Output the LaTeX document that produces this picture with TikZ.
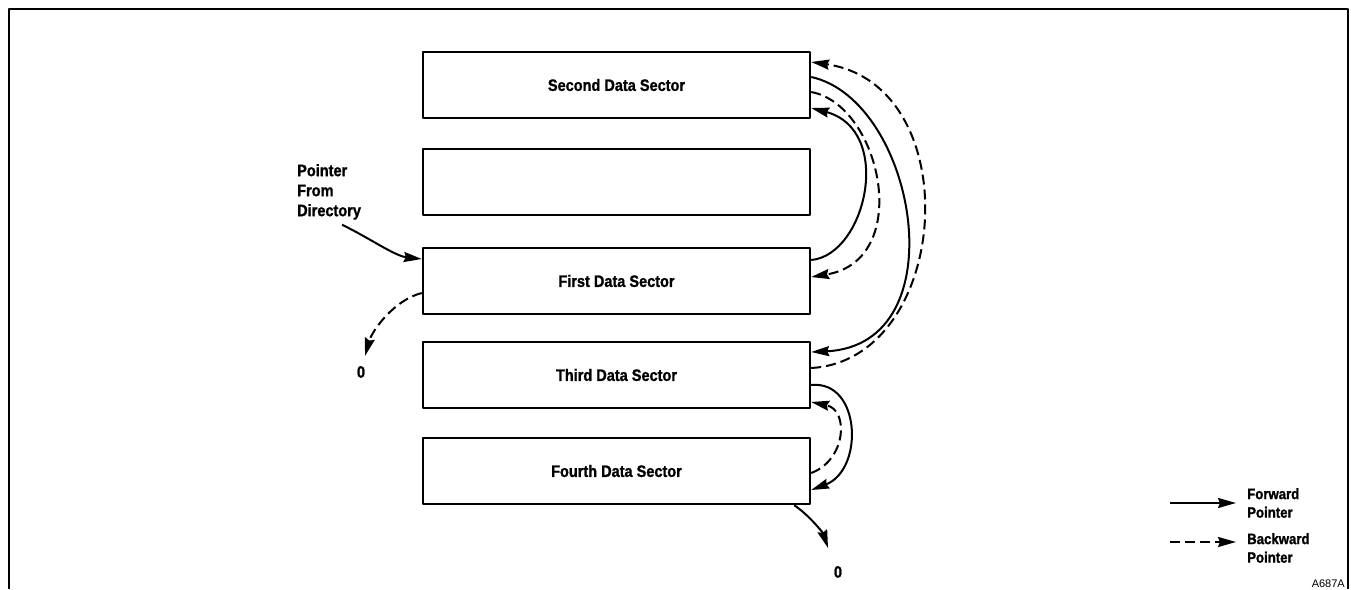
\documentclass[tikz,border=0pt]{standalone}
\usepackage{fontspec}
\setmainfont{Liberation Sans}
\newfontfamily\narrowsf{Liberation Sans}[FakeStretch=0.88, BoldFeatures={FakeBold=1.2}]
\usetikzlibrary{arrows.meta}

\begin{document}
\begin{tikzpicture}[x=1pt, y=-1pt, line join=round, >={Stealth[length=18pt,width=10pt,inset=2pt]},
	sector/.style={draw, line width=2.4pt, minimum width=387pt, minimum height=66pt, inner sep=0pt, font={\narrowsf\bfseries\fontsize{16.5}{20}\selectfont}},
	lbl/.style={inner sep=0pt, align=left, font={\narrowsf\bfseries\fontsize{16.5}{20}\selectfont}},
	key/.style={inner sep=0pt, align=left, font={\narrowsf\bfseries\fontsize{15}{18.5}\selectfont}},
	fwd/.style={->, line width=2pt},
	bwd/.style={->, line width=2pt, dash pattern=on 10pt off 5pt}]
					\useasboundingbox (0,0) rectangle (1351,589);
					\draw[line width=2.4pt] (9,589) -- (9,9) -- (1348,9) -- (1348,589);
					\foreach \n/\y/\t in {second/85/Second Data Sector, spare/182/, first/281/First Data Sector, third/375/Third Data Sector, fourth/471/Fourth Data Sector}
					\node[sector] (\n) at (616.5,\y) {\t};
					\node[lbl, anchor=north west] (ptr) at (297,164) {Pointer\\From\\Directory};
					\node[lbl] (zeroA) at (361,372) {0};
					\node[lbl] (zeroB) at (838,572) {0};
					\draw[fwd] ([shift={(13,5)}]ptr.south) .. controls +(27,13) and +(-27,-3) .. ([shift={(0,-22)}]first.west);
					\draw[bwd] ([shift={(0,12)}]first.west) .. controls +(-28,7) and +(7,-25) .. ([shift={(4,-10)}]zeroA.north);
					\draw[fwd] ([shift={(0,-21)}]first.east) .. controls +(55,-5) and +(83,22) .. ([shift={(0,23)}]second.east);
					\draw[bwd] ([shift={(0,7)}]second.east) .. controls +(70,13) and +(103,-17) .. ([shift={(0,-4)}]first.east);
					\draw[fwd] ([shift={(0,-8)}]second.east) .. controls +(105,23) and +(148,-7) .. ([shift={(0,-23)}]third.east);
					\draw[bwd] ([shift={(0,-7)}]third.east) .. controls +(140,-8) and +(158,23) .. ([shift={(0,-23)}]second.east);
					\draw[fwd] ([shift={(0,10)}]third.east) .. controls +(50,-5) and +(53,-20) .. ([shift={(0,19)}]fourth.east);
					\draw[bwd] ([shift={(0,2)}]fourth.east) .. controls +(35,-13) and +(38,8) .. ([shift={(0,27)}]third.east);
					\draw[fwd] ([shift={(-17,0)}]fourth.south east) .. controls +(15,10) and +(-5,-15) .. ([shift={(-10,-18)}]zeroB.north);
					\node[key, anchor=west] (fwdkey) at (1247,503) {Forward\\Pointer};
					\node[key, anchor=west] (bwdkey) at (1247,548) {Backward\\Pointer};
					\draw[fwd] ([shift={(-77,0)}]fwdkey.west) -- ([shift={(-11,0)}]fwdkey.west);
					\draw[bwd] ([shift={(-77,-6)}]bwdkey.west) -- ([shift={(-11,-6)}]bwdkey.west);
					\node[inner sep=0pt, anchor=south east, font={\fontsize{11}{13}\selectfont}] (code) at (1345,588) {A687A};
				\end{tikzpicture}
\end{document}
